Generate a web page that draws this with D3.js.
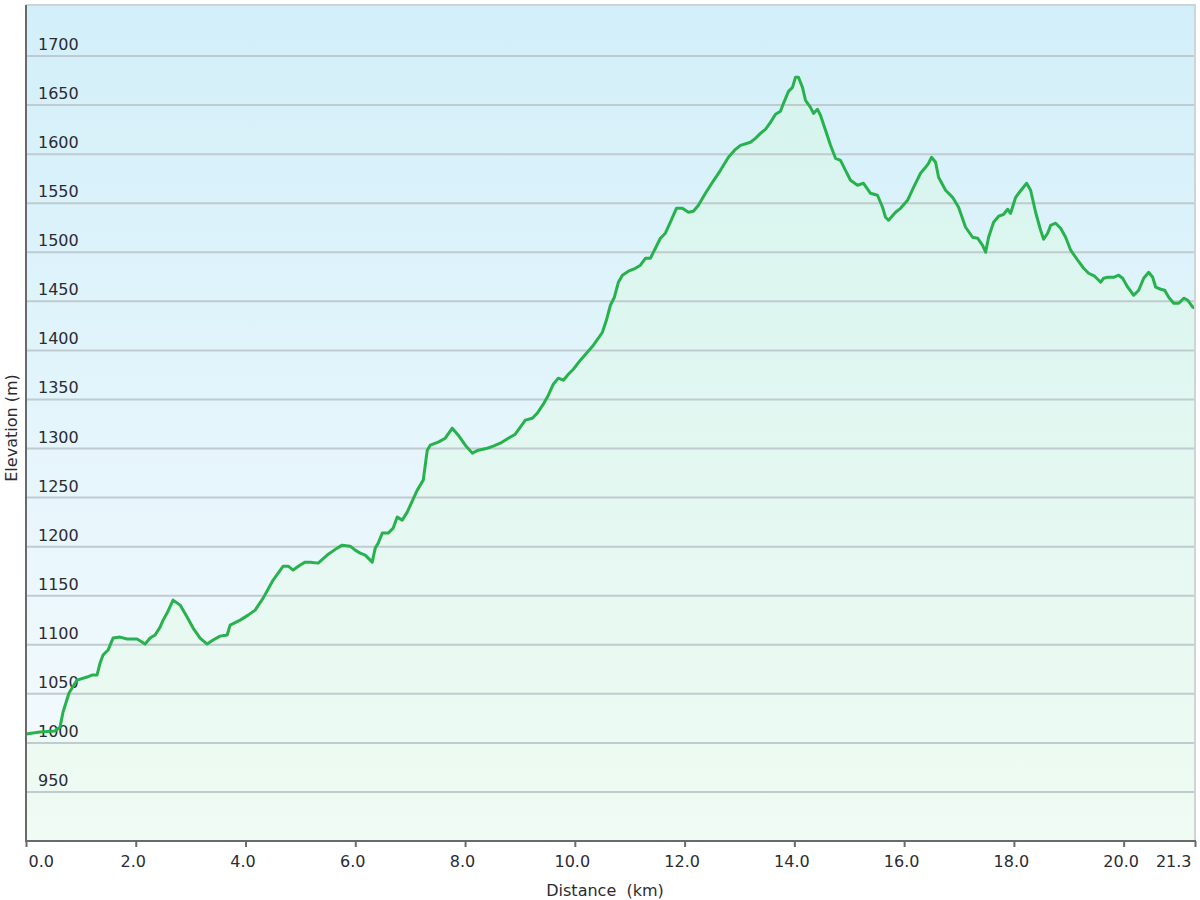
<!DOCTYPE html>
<html>
<head>
<meta charset="utf-8">
<script src="https://cdn.jsdelivr.net/npm/d3@7"></script>
<style>
  html, body { margin: 0; padding: 0; background: #ffffff; }
  svg { display: block; }
  text { font-family: "DejaVu Sans", Verdana, sans-serif; fill: #2b2b33; }
</style>
</head>
<body>
<svg id="chart" width="1200" height="900"></svg>
<script>
// ---- data ----
const distanceKm = [
  0.000, 0.255, 0.529, 0.620, 0.675, 0.784, 0.930, 1.112, 1.203, 1.294,
  1.349, 1.404, 1.495, 1.586, 1.714, 1.841, 2.024, 2.170, 2.261, 2.352,
  2.443, 2.498, 2.571, 2.680, 2.808, 2.935, 3.045, 3.172, 3.300, 3.409,
  3.537, 3.665, 3.719, 3.902, 4.047, 4.175, 4.321, 4.503, 4.686, 4.777,
  4.868, 4.996, 5.087, 5.178, 5.324, 5.488, 5.670, 5.761, 5.907, 5.998,
  6.089, 6.181, 6.308, 6.363, 6.418, 6.491, 6.600, 6.691, 6.764, 6.855,
  6.946, 7.129, 7.238, 7.311, 7.366, 7.512, 7.639, 7.767, 7.876, 8.004,
  8.132, 8.241, 8.405, 8.514, 8.642, 8.788, 8.915, 9.007, 9.098, 9.225,
  9.317, 9.426, 9.517, 9.608, 9.699, 9.791, 9.882, 9.973, 10.101, 10.228,
  10.338, 10.429, 10.502, 10.575, 10.648, 10.721, 10.794, 10.867, 10.976, 11.104,
  11.195, 11.286, 11.377, 11.468, 11.559, 11.650, 11.741, 11.851, 11.960, 12.070,
  12.161, 12.252, 12.380, 12.507, 12.653, 12.799, 12.927, 13.018, 13.200, 13.291,
  13.382, 13.473, 13.565, 13.656, 13.747, 13.802, 13.893, 13.966, 14.020, 14.075,
  14.148, 14.203, 14.294, 14.349, 14.422, 14.476, 14.568, 14.659, 14.750, 14.841,
  14.932, 15.023, 15.151, 15.260, 15.388, 15.515, 15.607, 15.661, 15.716, 15.844,
  15.935, 16.062, 16.172, 16.299, 16.391, 16.445, 16.500, 16.573, 16.628, 16.755,
  16.883, 16.992, 17.120, 17.248, 17.339, 17.430, 17.485, 17.539, 17.630, 17.722,
  17.813, 17.886, 17.940, 18.032, 18.086, 18.159, 18.232, 18.305, 18.396, 18.487,
  18.542, 18.615, 18.670, 18.761, 18.852, 18.943, 19.035, 19.162, 19.271, 19.362,
  19.472, 19.581, 19.636, 19.709, 19.818, 19.909, 19.982, 20.074, 20.183, 20.274,
  20.365, 20.456, 20.529, 20.584, 20.675, 20.748, 20.821, 20.912, 21.004, 21.095,
  21.168, 21.259, 21.300
];
const elevationM = [
  1009.0, 1011.0, 1012.1, 1016.1, 1031.4, 1050.8, 1064.0, 1067.1, 1069.1, 1069.1,
  1081.3, 1089.5, 1094.6, 1106.8, 1107.8, 1105.8, 1105.8, 1100.7, 1106.8, 1109.9,
  1118.0, 1125.1, 1132.3, 1145.5, 1140.4, 1128.2, 1117.0, 1106.8, 1100.7, 1104.8,
  1108.8, 1109.9, 1120.0, 1125.1, 1130.2, 1135.3, 1147.5, 1165.9, 1180.1, 1180.1,
  1176.1, 1181.2, 1184.2, 1184.2, 1183.2, 1191.4, 1198.5, 1201.5, 1200.5, 1196.4,
  1193.4, 1191.4, 1184.2, 1198.5, 1203.6, 1213.8, 1213.8, 1218.9, 1230.1, 1227.0,
  1235.2, 1257.6, 1267.8, 1298.3, 1303.4, 1306.5, 1310.5, 1320.7, 1313.6, 1303.4,
  1295.3, 1298.3, 1300.3, 1302.4, 1305.4, 1310.5, 1314.6, 1321.7, 1328.9, 1330.9,
  1336.0, 1345.2, 1354.3, 1365.5, 1371.7, 1369.6, 1375.7, 1380.8, 1390.0, 1398.1,
  1405.3, 1412.4, 1418.5, 1430.7, 1446.0, 1454.2, 1469.5, 1476.6, 1480.7, 1483.7,
  1486.8, 1493.9, 1493.9, 1504.1, 1514.3, 1519.4, 1530.6, 1544.8, 1544.8, 1540.8,
  1541.8, 1547.9, 1560.1, 1571.3, 1583.5, 1596.8, 1604.9, 1609.0, 1612.1, 1616.1,
  1621.2, 1625.3, 1632.4, 1640.6, 1643.7, 1651.8, 1664.0, 1668.1, 1678.3, 1678.3,
  1668.1, 1654.9, 1647.7, 1641.6, 1645.7, 1639.6, 1624.3, 1609.0, 1595.8, 1593.7,
  1583.5, 1573.4, 1568.3, 1570.3, 1560.1, 1558.1, 1545.9, 1535.7, 1532.6, 1540.8,
  1544.8, 1553.0, 1566.2, 1580.5, 1586.6, 1590.7, 1596.8, 1591.7, 1576.4, 1563.2,
  1556.0, 1545.9, 1525.5, 1515.3, 1514.3, 1507.1, 1500.0, 1515.3, 1530.6, 1536.7,
  1538.7, 1543.8, 1539.7, 1556.0, 1560.1, 1565.2, 1570.3, 1563.2, 1540.8, 1522.4,
  1513.3, 1519.4, 1527.5, 1529.6, 1524.5, 1515.3, 1502.1, 1491.9, 1483.7, 1478.6,
  1475.6, 1469.5, 1473.5, 1474.5, 1474.5, 1476.6, 1473.5, 1464.4, 1456.2, 1461.3,
  1473.5, 1479.6, 1474.5, 1464.4, 1462.3, 1461.3, 1454.2, 1448.1, 1448.1, 1453.2,
  1451.1, 1444.0, 1443.0
];
const yTickValues = [950, 1000, 1050, 1100, 1150, 1200, 1250, 1300, 1350, 1400, 1450, 1500, 1550, 1600, 1650, 1700];
const xTickValues = [0, 2, 4, 6, 8, 10, 12, 14, 16, 18, 20, 21.3];
const xTickLabels = ["0.0", "2.0", "4.0", "6.0", "8.0", "10.0", "12.0", "14.0", "16.0", "18.0", "20.0", "21.3"];
const xTitle = "Distance\u00a0\u00a0(km)";
const yTitle = "Elevation (m)";

// ---- layout ----
const svg = d3.select("#chart");
const pL = 26, pR = 1195, pT = 5, pB = 841;
const x = d3.scaleLinear().domain([0, 21.3]).range([pL, pR]);
const y = d3.scaleLinear().domain([900, 1752]).range([pB, pT]);

const defs = svg.append("defs");
const bg = defs.append("linearGradient").attr("id", "bgGrad")
  .attr("x1", 0).attr("y1", 0).attr("x2", 0).attr("y2", 1);
bg.append("stop").attr("offset", "0%").attr("stop-color", "#d2eff9");
bg.append("stop").attr("offset", "100%").attr("stop-color", "#f6fbfe");

const ag = defs.append("linearGradient").attr("id", "areaGrad")
  .attr("gradientUnits", "userSpaceOnUse")
  .attr("x1", 0).attr("y1", pT).attr("x2", 0).attr("y2", pB);
ag.append("stop").attr("offset", "0%").attr("stop-color", "#d4f3ee");
ag.append("stop").attr("offset", "100%").attr("stop-color", "#effbf3");

// plot background
svg.append("rect")
  .attr("x", pL).attr("y", pT)
  .attr("width", pR - pL).attr("height", pB - pT)
  .attr("fill", "url(#bgGrad)");

const data = distanceKm.map((d, i) => ({ d, e: elevationM[i] }));

// area
svg.append("path")
  .datum(data)
  .attr("fill", "url(#areaGrad)")
  .attr("d", d3.area().x(p => x(p.d)).y0(pB).y1(p => y(p.e)));

// gridlines
svg.append("g").selectAll("line")
  .data(yTickValues).join("line")
  .attr("x1", pL).attr("x2", pR)
  .attr("y1", v => y(v)).attr("y2", v => y(v))
  .attr("stroke", "#bfcbcf").attr("stroke-width", 2);

// y tick labels (inside plot)
svg.append("g").selectAll("text")
  .data(yTickValues).join("text")
  .attr("x", 38).attr("y", v => y(v) - 6)
  .attr("font-size", 16)
  .text(v => v);

// line
svg.append("path")
  .datum(data)
  .attr("fill", "none")
  .attr("stroke", "#27b24e")
  .attr("stroke-width", 3)
  .attr("stroke-linejoin", "round")
  .attr("d", d3.line().x(p => x(p.d)).y(p => y(p.e)));

// plot border top/right
svg.append("path")
  .attr("d", `M${pL},${pT}H${pR}V${pB}`)
  .attr("fill", "none").attr("stroke", "#cfd4d6").attr("stroke-width", 2);

// x axis
const xAxis = d3.axisBottom(x)
  .tickValues(xTickValues)
  .tickSize(6)
  .tickFormat((v, i) => xTickLabels[i]);
const gx = svg.append("g").attr("transform", `translate(0,${pB})`).call(xAxis);
gx.select(".domain").attr("stroke", "#6a6a6a").attr("stroke-width", 2)
  .attr("d", `M${pL - 1},0H${pR + 1}`);
gx.selectAll(".tick line").attr("stroke", "#6a6a6a").attr("stroke-width", 2);
gx.selectAll(".tick text")
  .attr("font-family", "DejaVu Sans, Verdana, sans-serif")
  .attr("font-size", 16).attr("fill", "#2b2b33")
  .attr("y", 15).attr("dy", "0.71em")
  .attr("text-anchor", (v, i) => i === 0 ? "start" : (i === xTickValues.length - 1 ? "end" : "middle"))
  .attr("dx", (v, i) => i === 0 ? 2 : (i === xTickValues.length - 1 ? -4 : -3));

// y axis line
svg.append("line")
  .attr("x1", pL).attr("x2", pL).attr("y1", pT).attr("y2", pB + 1)
  .attr("stroke", "#6a6a6a").attr("stroke-width", 2);

// titles
svg.append("text")
  .attr("x", 605).attr("y", 896)
  .attr("text-anchor", "middle").attr("font-size", 16)
  .style("white-space", "pre")
  .text(xTitle);
svg.append("text")
  .attr("transform", "translate(17,428) rotate(-90)")
  .attr("text-anchor", "middle").attr("font-size", 16)
  .text(yTitle);
</script>
</body>
</html>
